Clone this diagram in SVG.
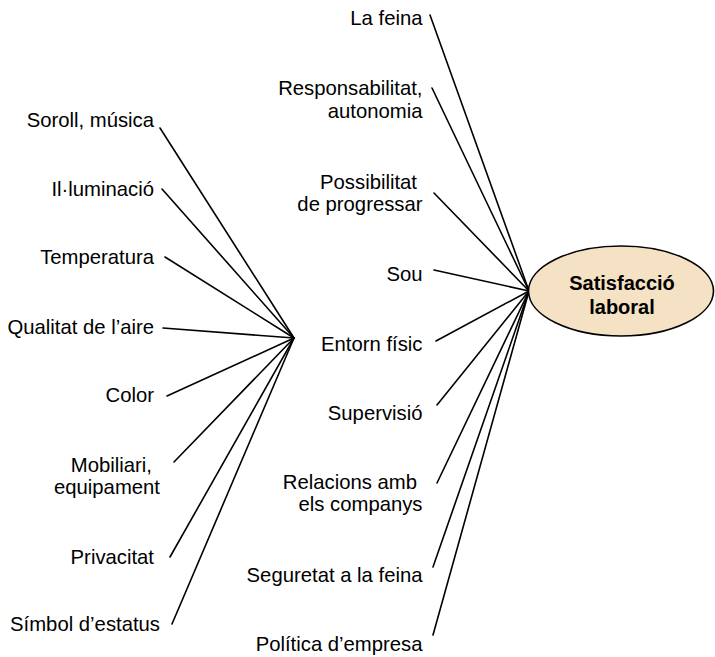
<svg xmlns="http://www.w3.org/2000/svg" width="715" height="657" viewBox="0 0 715 657">
<style>
.lbl{font-family:"Liberation Sans",Arial,sans-serif;font-size:20.3px;fill:#000;text-anchor:end}
.ttl{font-family:"Liberation Sans",Arial,sans-serif;font-size:20px;font-weight:bold;fill:#000;text-anchor:middle}
.ln{stroke:#000;stroke-width:1.6;fill:none;stroke-linecap:round}
</style>
<rect width="715" height="657" fill="#fff"/>
<g id="connectors">
<line class="ln" x1="160" y1="128" x2="294" y2="338"/>
<line class="ln" x1="162" y1="189" x2="294" y2="338"/>
<line class="ln" x1="165" y1="257" x2="294" y2="338"/>
<line class="ln" x1="163" y1="328" x2="294" y2="338"/>
<line class="ln" x1="167" y1="396" x2="294" y2="338"/>
<line class="ln" x1="174" y1="462" x2="294" y2="338"/>
<line class="ln" x1="170" y1="557" x2="294" y2="338"/>
<line class="ln" x1="172" y1="624" x2="294" y2="338"/>
<line class="ln" x1="430" y1="15" x2="529" y2="291"/>
<line class="ln" x1="432" y1="88" x2="529" y2="291"/>
<line class="ln" x1="434" y1="193" x2="529" y2="291"/>
<line class="ln" x1="434" y1="270" x2="529" y2="291"/>
<line class="ln" x1="436" y1="341" x2="529" y2="291"/>
<line class="ln" x1="437" y1="405" x2="529" y2="291"/>
<line class="ln" x1="437" y1="483" x2="529" y2="291"/>
<line class="ln" x1="433" y1="567" x2="529" y2="291"/>
<line class="ln" x1="433" y1="635" x2="529" y2="291"/>
</g>
<g id="satisfaccio">
<ellipse cx="621" cy="291" rx="92.5" ry="45" fill="#F5E1C3" stroke="#000" stroke-width="1.6"/>
<text class="ttl" x="622" y="289.5">Satisfacció</text>
<text class="ttl" x="622" y="313.5">laboral</text>
</g>
<g id="soroll"><text class="lbl" x="154" y="127">Soroll, música</text></g>
<g id="illuminacio"><text class="lbl" x="154" y="196">Il·luminació</text></g>
<g id="temperatura"><text class="lbl" x="154" y="264">Temperatura</text></g>
<g id="qualitat"><text class="lbl" x="154" y="333.5">Qualitat de l’aire</text></g>
<g id="color"><text class="lbl" x="154" y="401.5">Color</text></g>
<g id="mobiliari"><text class="lbl" x="152" y="471.5">Mobiliari,</text><text class="lbl" x="160" y="494">equipament</text></g>
<g id="privacitat"><text class="lbl" x="154" y="564">Privacitat</text></g>
<g id="simbol"><text class="lbl" x="160" y="630.5">Símbol d’estatus</text></g>
<g id="feina"><text class="lbl" x="422.5" y="25">La feina</text></g>
<g id="responsabilitat"><text class="lbl" x="422.5" y="95">Responsabilitat,</text><text class="lbl" x="422.5" y="117.5">autonomia</text></g>
<g id="possibilitat"><text class="lbl" x="417" y="188.5">Possibilitat</text><text class="lbl" x="422.5" y="211">de progressar</text></g>
<g id="sou"><text class="lbl" x="422.5" y="281">Sou</text></g>
<g id="entorn"><text class="lbl" x="422.5" y="350.5">Entorn físic</text></g>
<g id="supervisio"><text class="lbl" x="422.5" y="419.5">Supervisió</text></g>
<g id="relacions"><text class="lbl" x="417" y="489.3">Relacions amb</text><text class="lbl" x="422.5" y="511">els companys</text></g>
<g id="seguretat"><text class="lbl" x="422.5" y="581.7">Seguretat a la feina</text></g>
<g id="politica"><text class="lbl" x="422.5" y="650.5">Política d’empresa</text></g>
</svg>
